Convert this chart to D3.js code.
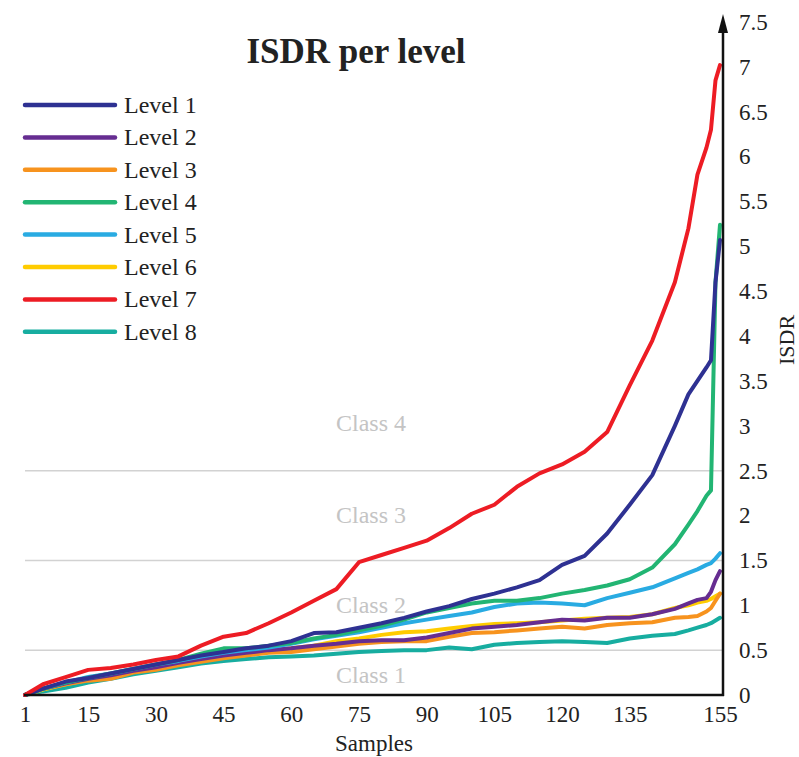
<!DOCTYPE html>
<html>
<head>
<meta charset="utf-8">
<script src="https://cdn.jsdelivr.net/npm/d3@7"></script>
<style>
  html, body { margin: 0; padding: 0; background: #fff; }
  svg text { font-family: "Liberation Serif", "Times New Roman", serif; }
</style>
</head>
<body>
<svg id="chart" width="799" height="757"></svg>
<script>
// ---- data ----
const samples = [1,5,10,15,20,25,30,35,40,45,50,55,60,65,70,75,80,85,90,95,100,105,110,115,120,125,130,135,140,145,148,150,152,153,154,155];
const level1 = [0,0.07,0.15,0.19,0.24,0.29,0.34,0.39,0.44,0.48,0.52,0.55,0.60,0.69,0.70,0.75,0.80,0.86,0.93,0.99,1.07,1.13,1.20,1.28,1.45,1.55,1.80,2.12,2.45,3.00,3.35,3.50,3.65,3.73,4.60,5.07];
const level2 = [0,0.07,0.13,0.18,0.22,0.27,0.31,0.36,0.40,0.44,0.47,0.50,0.52,0.55,0.57,0.60,0.61,0.61,0.64,0.69,0.74,0.76,0.78,0.81,0.84,0.83,0.86,0.86,0.90,0.96,1.02,1.06,1.08,1.15,1.28,1.38];
const level3 = [0,0.07,0.12,0.16,0.18,0.25,0.28,0.33,0.37,0.41,0.44,0.47,0.48,0.51,0.54,0.57,0.59,0.60,0.60,0.65,0.69,0.70,0.72,0.74,0.76,0.74,0.78,0.80,0.81,0.86,0.87,0.88,0.93,0.97,1.05,1.13];
const level4 = [0,0.07,0.14,0.19,0.24,0.29,0.34,0.39,0.46,0.52,0.52,0.55,0.58,0.63,0.67,0.72,0.77,0.84,0.92,0.97,1.02,1.05,1.05,1.08,1.13,1.17,1.22,1.29,1.42,1.68,1.90,2.05,2.22,2.28,4.60,5.24];
const level5 = [0,0.07,0.14,0.20,0.24,0.29,0.34,0.38,0.43,0.47,0.50,0.53,0.57,0.62,0.66,0.70,0.75,0.80,0.84,0.88,0.92,0.98,1.02,1.03,1.02,1.00,1.08,1.14,1.20,1.30,1.36,1.40,1.45,1.47,1.52,1.58];
const level6 = [0,0.06,0.12,0.17,0.20,0.26,0.30,0.35,0.39,0.43,0.46,0.49,0.52,0.55,0.60,0.63,0.67,0.70,0.71,0.74,0.77,0.79,0.80,0.81,0.83,0.85,0.86,0.87,0.90,0.97,1.00,1.03,1.05,1.07,1.10,1.13];
const level7 = [0,0.12,0.20,0.28,0.30,0.34,0.39,0.43,0.55,0.65,0.69,0.80,0.92,1.05,1.18,1.48,1.56,1.64,1.72,1.86,2.02,2.12,2.32,2.47,2.57,2.71,2.93,3.45,3.95,4.60,5.20,5.80,6.10,6.30,6.85,7.02];
const level8 = [0,0.04,0.08,0.14,0.18,0.23,0.27,0.31,0.35,0.38,0.40,0.42,0.43,0.44,0.46,0.48,0.49,0.50,0.50,0.53,0.51,0.56,0.58,0.59,0.60,0.59,0.58,0.63,0.66,0.68,0.72,0.75,0.78,0.80,0.83,0.86];

const seriesNames = ["Level 1","Level 2","Level 3","Level 4","Level 5","Level 6","Level 7","Level 8"];
const seriesValues = [level1, level2, level3, level4, level5, level6, level7, level8];
const seriesColors = ["#2E3192","#662D91","#F7931E","#22B573","#29ABE2","#FFCC00","#ED1C24","#17ADA0"];

const xTicks = [1,15,30,45,60,75,90,105,120,135,155];
const yTicks = [0,0.5,1,1.5,2,2.5,3,3.5,4,4.5,5,5.5,6,6.5,7,7.5];
const gridValues = [0.5,1.5,2.5];
const classNames = ["Class 1","Class 2","Class 3","Class 4"];
const classCenters = [0.22,1.0,2.0,3.03];

// ---- layout ----
const svg = d3.select("#chart");
const x = d3.scaleLinear().domain([1,155]).range([25,720]);
const y = d3.scaleLinear().domain([0,7.5]).range([695,22]);
const axisX = 723;

// gridlines
svg.append("g").selectAll("line").data(gridValues).join("line")
  .attr("x1", 25).attr("x2", axisX)
  .attr("y1", d => y(d)).attr("y2", d => y(d))
  .attr("stroke", "#d2d2d2").attr("stroke-width", 1.5);

// class labels
svg.append("g").selectAll("text").data(classNames).join("text")
  .attr("x", 371).attr("y", (d,i) => y(classCenters[i]))
  .attr("dy", "0.33em")
  .attr("text-anchor", "middle")
  .attr("font-size", 24)
  .attr("fill", "#c4c4c4")
  .text(d => d);

// lines
const line = d3.line()
  .x((d,i) => x(samples[i]))
  .y(d => y(d))
  .curve(d3.curveLinear);

const drawOrder = [7,5,2,1,4,3,0,6];
svg.append("g").selectAll("path").data(drawOrder).join("path")
  .attr("d", i => line(seriesValues[i]))
  .attr("fill", "none")
  .attr("stroke", i => seriesColors[i])
  .attr("stroke-width", 4)
  .attr("stroke-linejoin", "round")
  .attr("stroke-linecap", "round");

// bottom axis line
svg.append("line")
  .attr("x1", 24).attr("x2", axisX + 1)
  .attr("y1", y(0)).attr("y2", y(0))
  .attr("stroke", "#111").attr("stroke-width", 2.5);

// right axis with arrow
svg.append("line")
  .attr("x1", axisX).attr("x2", axisX)
  .attr("y1", y(0) + 1).attr("y2", 28)
  .attr("stroke", "#111").attr("stroke-width", 2.5);
svg.append("path")
  .attr("d", `M${axisX},14 L${axisX-5},33 L${axisX+5},33 Z`)
  .attr("fill", "#111");

// x tick labels
const xAxis = d3.axisBottom(x).tickValues(xTicks).tickSize(0).tickPadding(0).tickFormat(d3.format("d"));
const gx = svg.append("g").attr("transform", `translate(0,${y(0)})`).call(xAxis);
gx.select(".domain").remove();
gx.selectAll("text")
  .attr("y", 27).attr("dy", 0)
  .attr("font-size", 23)
  .attr("font-family", "Liberation Serif, Times New Roman, serif")
  .attr("fill", "#222");

// y tick labels (right)
const yAxis = d3.axisRight(y).tickValues(yTicks).tickSize(0).tickPadding(0).tickFormat(d => String(d));
const gy = svg.append("g").attr("transform", `translate(${axisX},0)`).call(yAxis);
gy.select(".domain").remove();
gy.selectAll("text")
  .attr("x", 16)
  .attr("font-size", 23)
  .attr("font-family", "Liberation Serif, Times New Roman, serif")
  .attr("fill", "#222");

// axis titles
svg.append("text")
  .attr("x", 374).attr("y", 751)
  .attr("text-anchor", "middle")
  .attr("font-size", 23).attr("fill", "#222")
  .text("Samples");
svg.append("text")
  .attr("transform", "translate(794,340) rotate(-90)")
  .attr("text-anchor", "middle")
  .attr("font-size", 22).attr("fill", "#222")
  .text("ISDR");

// title
svg.append("text")
  .attr("x", 356).attr("y", 63)
  .attr("text-anchor", "middle")
  .attr("font-size", 35).attr("font-weight", "bold").attr("fill", "#222")
  .text("ISDR per level");

// legend
const legend = svg.append("g").selectAll("g").data(seriesNames).join("g")
  .attr("transform", (d,i) => `translate(0,${105 + i*32.4})`);
legend.append("line")
  .attr("x1", 25).attr("x2", 115).attr("y1", 0).attr("y2", 0)
  .attr("stroke", (d,i) => seriesColors[i])
  .attr("stroke-width", 4.5).attr("stroke-linecap", "round");
legend.append("text")
  .attr("x", 124).attr("y", 0).attr("dy", "0.33em")
  .attr("font-size", 24).attr("fill", "#222")
  .text(d => d);
</script>
</body>
</html>
